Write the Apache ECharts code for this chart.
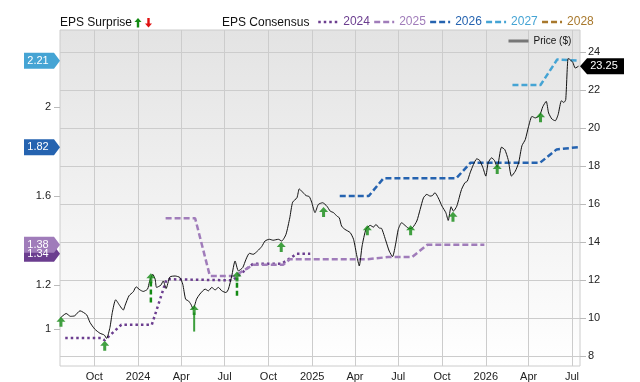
<!DOCTYPE html>
<html>
<head>
<meta charset="utf-8">
<script src="https://cdn.jsdelivr.net/npm/echarts@6/dist/echarts.min.js"></script>
<style>
html,body{margin:0;padding:0;background:#fff}
#main{width:640px;height:382px}
</style>
</head>
<body>
<div id="main"></div>
<script>
// visible date range of the chart
var xRange = ['2023-07-21', '2026-07-18'];
var xTicks = ['2023-10-01','2024-01-01','2024-04-01','2024-07-01','2024-10-01','2025-01-01',
              '2025-04-01','2025-07-01','2025-10-01','2026-01-01','2026-04-01','2026-07-01'];
var xTickLabels = ['Oct','2024','Apr','Jul','Oct','2025','Apr','Jul','Oct','2026','Apr','Jul'];
var epsTicks = [1, 1.2, 1.6, 2];
var priceTicks = [8, 10, 12, 14, 16, 18, 20, 22, 24];
var years = ['2024','2025','2026','2027','2028'];

// consensus EPS by fiscal year
var eps2024 = [['2023-08-01',0.96],['2023-10-16',0.96],['2023-10-23',0.95],['2023-11-27',1.02],['2024-01-30',1.02],
  ['2024-03-01',1.225],['2024-07-18',1.22],['2024-08-30',1.295],['2024-10-29',1.295],['2024-11-30',1.34],['2024-12-28',1.34]];
var eps2025 = [['2024-02-28',1.50],['2024-04-30',1.50],['2024-05-31',1.24],['2024-07-22',1.24],['2024-08-30',1.29],
  ['2024-11-01',1.29],['2024-11-15',1.315],['2025-04-27',1.315],['2025-06-10',1.325],['2025-07-30',1.325],
  ['2025-08-31',1.38],['2025-12-29',1.38]];
var eps2026 = [['2025-02-28',1.60],['2025-04-30',1.60],['2025-05-31',1.68],['2025-10-31',1.68],['2025-11-30',1.75],
  ['2026-04-25',1.75],['2026-05-30',1.81],['2026-07-15',1.82]];
var eps2027 = [['2026-02-26',2.10],['2026-04-26',2.10],['2026-05-31',2.215],['2026-07-15',2.21]];
var eps2028 = [];

// share price
var price = [
 ['2023-07-22',10.02],['2023-08-03',10.25],['2023-08-12',10.10],['2023-08-21',10.13],['2023-09-01',10.39],
 ['2023-09-15',10.18],['2023-09-22',9.78],['2023-10-02',9.43],['2023-10-13',9.21],['2023-10-22',9.12],
 ['2023-10-27',8.94],['2023-11-03',9.52],['2023-11-08',10.31],['2023-11-15',10.97],['2023-11-24',10.65],
 ['2023-12-01',10.43],['2023-12-05',10.69],['2023-12-13',11.18],['2023-12-22',11.39],['2023-12-28',11.65],
 ['2024-01-05',11.49],['2024-01-12',11.41],['2024-01-21',11.53],['2024-01-25',11.91],['2024-02-01',12.31],
 ['2024-02-06',12.05],['2024-02-09',11.62],['2024-02-18',11.74],['2024-02-23',11.96],['2024-02-29',11.56],
 ['2024-03-08',12.17],['2024-03-19',12.22],['2024-03-29',12.14],['2024-04-04',11.79],['2024-04-10',11.00],
 ['2024-04-16',10.91],['2024-04-21',10.74],['2024-04-26',10.48],['2024-05-03',11.00],['2024-05-10',11.27],
 ['2024-05-21',11.53],['2024-05-28',11.44],['2024-06-04',11.62],['2024-06-11',11.49],['2024-06-18',11.62],
 ['2024-06-25',11.44],['2024-07-04',11.35],['2024-07-09',11.53],['2024-07-16',12.22],['2024-07-23',13.01],
 ['2024-07-30',12.49],['2024-08-08',12.66],['2024-08-15',13.10],['2024-08-22',13.41],['2024-08-30',13.36],
 ['2024-09-08',13.53],['2024-09-17',13.77],['2024-09-24',14.06],['2024-10-03',14.15],['2024-10-11',14.10],
 ['2024-10-22',14.15],['2024-10-29',14.06],['2024-11-07',14.41],['2024-11-15',15.28],['2024-11-21',16.10],
 ['2024-11-30',16.33],['2024-12-05',16.80],['2024-12-10',16.68],['2024-12-19',16.45],['2024-12-26',16.39],
 ['2024-12-31',16.10],['2025-01-07',15.55],['2025-01-14',15.98],['2025-01-23',16.07],['2025-02-01',15.89],
 ['2025-02-08',15.63],['2025-02-15',15.55],['2025-02-22',15.37],['2025-02-27',15.28],['2025-03-04',14.84],
 ['2025-03-11',14.67],['2025-03-22',14.50],['2025-03-29',14.15],['2025-04-05',13.27],['2025-04-10',12.75],
 ['2025-04-16',13.80],['2025-04-24',14.67],['2025-05-03',14.88],['2025-05-10',14.79],['2025-05-15',14.93],
 ['2025-05-22',14.74],['2025-05-27',14.72],['2025-06-05',14.06],['2025-06-12',13.53],['2025-06-19',13.24],
 ['2025-06-26',13.97],['2025-07-01',14.67],['2025-07-08',15.02],['2025-07-17',14.84],['2025-07-24',14.71],
 ['2025-07-31',14.76],['2025-08-09',15.11],['2025-08-16',15.72],['2025-08-23',16.33],['2025-08-30',16.51],
 ['2025-09-06',16.42],['2025-09-11',16.45],['2025-09-16',16.60],['2025-09-23',16.33],['2025-10-01',15.89],
 ['2025-10-09',15.55],['2025-10-14',15.14],['2025-10-20',15.86],['2025-10-25',15.63],['2025-11-01',15.89],
 ['2025-11-06',16.33],['2025-11-11',16.77],['2025-11-18',17.12],['2025-11-23',17.20],['2025-11-29',17.64],
 ['2025-12-06',18.08],['2025-12-13',18.38],['2025-12-19',18.30],['2025-12-26',17.91],['2026-01-01',17.47],
 ['2026-01-06',18.17],['2026-01-13',18.43],['2026-01-19',18.30],['2026-01-25',17.94],['2026-02-03',18.99],
 ['2026-02-10',18.86],['2026-02-17',18.34],['2026-02-24',17.47],['2026-03-04',17.73],['2026-03-11',18.17],
 ['2026-03-18',19.07],['2026-03-25',19.39],['2026-04-01',20.09],['2026-04-08',20.61],['2026-04-15',20.53],
 ['2026-04-24',20.65],['2026-05-01',21.13],['2026-05-08',21.40],['2026-05-13',20.79],['2026-05-20',20.47],
 ['2026-05-27',20.38],['2026-06-02',20.70],['2026-06-09',21.43],['2026-06-14',21.34],['2026-06-18',21.49],
 ['2026-06-23',23.65],['2026-06-27',23.60],['2026-07-03',23.44],['2026-07-08',23.15],['2026-07-15',23.25]
];

// EPS surprise arrows (placed on the price scale)
var surprise = [['2023-07-23',9.81],['2023-10-23',8.56],['2024-01-28',12.10],['2024-04-28',10.43],
  ['2024-07-27',12.19],['2024-10-28',13.74],['2025-01-25',15.58],['2025-04-27',14.62],['2025-07-27',14.62],
  ['2025-10-24',15.34],['2026-01-25',17.85],['2026-04-26',20.56]];
// stems below some arrows: date, from, to, dashed?
var stems = [['2024-01-28',10.83,12.0,true],['2024-04-28',9.30,10.3,false],['2024-07-27',11.18,12.1,true]];

var FONT = '"Liberation Sans", Arial, Helvetica, sans-serif';
var yearColors = {'2024':'#6b3d8f','2025':'#a07cba','2026':'#2563b0','2027':'#45a4d4','2028':'#a8782c'};
var upColor = '#138a13';

function ts(s){ var p = s.split('-'); return new Date(+p[0], p[1]-1, +p[2]).getTime(); }
function pts(arr){ return arr.map(function(d){ return [ts(d[0]), d[1]]; }); }

var xMin = ts(xRange[0]), xMax = ts(xRange[1]);
var xTickVals = xTicks.map(ts);

function epsSeries(name, data, dash){
  var s = {
    name: name, type: 'line', yAxisIndex: 0, data: pts(data), symbol: 'none', clip: false, z: 3,
    lineStyle: {color: yearColors[name], width: 2.5, type: dash},
    itemStyle: {color: yearColors[name]}
  };
  if (data.length) {
    var last = data[data.length-1][1];
    s.markPoint = {
      silent: true,
      symbol: 'path://M0,0L30,0L36,8L30,16L0,16Z', symbolSize: [36,16], symbolOffset: [-18,0],
      itemStyle: {color: yearColors[name]},
      label: {show: true, position: 'inside', color: '#fff', fontSize: 11, fontFamily: FONT,
              formatter: last.toFixed(2), offset: [-4,0]},
      data: [{coord: [xMin, last]}]
    };
  }
  return s;
}

var series = [
  epsSeries('2024', eps2024, [2.5,3]),
  epsSeries('2025', eps2025, [6,3]),
  epsSeries('2026', eps2026, [6,3]),
  epsSeries('2027', eps2027, [6,3]),
  epsSeries('2028', eps2028, [6,3])
];

var lastPrice = price[price.length-1][1];
series.push({
  name: 'Price ($)', type: 'line', yAxisIndex: 1, data: pts(price), symbol: 'none', smooth: 0.2, clip: false, z: 4,
  lineStyle: {color: '#111', width: 1}, itemStyle: {color: '#777'},
  markPoint: {
    silent: true,
    symbol: 'path://M0,8L7,0L44,0L44,16L7,16Z', symbolSize: [44,16], symbolOffset: [22,0],
    itemStyle: {color: '#000'},
    label: {show: true, position: 'inside', color: '#fff', fontSize: 11, fontFamily: FONT,
            formatter: lastPrice.toFixed(2), offset: [2,0]},
    data: [{coord: [xMax, lastPrice]}]
  }
});

stems.forEach(function(st){
  series.push({
    type: 'line', yAxisIndex: 1, symbol: 'none', z: 5, silent: true,
    data: [[ts(st[0]), st[1]], [ts(st[0]), st[2]]],
    lineStyle: st[3] ? {color: upColor, width: 2.5, type: [5,3]} : {color: '#3c9f3c', width: 2}
  });
});

series.push({
  name: 'EPS Surprise', type: 'scatter', yAxisIndex: 1, data: pts(surprise), z: 6,
  symbol: 'path://M4.5,0L9,5L6,5L6,10L3,10L3,5L0,5Z', symbolSize: [9,10],
  itemStyle: {color: upColor}
});

var chart = echarts.init(document.getElementById('main'));
chart.setOption({
  animation: false,
  grid: {
    left: 60, right: 60, top: 30, bottom: 15, show: true, borderColor: '#cccccc', borderWidth: 1,
    backgroundColor: new echarts.graphic.LinearGradient(0, 0, 0, 1, [
      {offset: 0, color: '#e3e3e3'}, {offset: 1, color: '#ffffff'}])
  },
  legend: [{
    left: 317, top: 16, padding: 0, itemWidth: 20, itemHeight: 10, itemGap: 3, selectedMode: false,
    data: years.map(function(y){ return {name: y, textStyle: {color: yearColors[y]}}; }),
    textStyle: {fontSize: 12, fontFamily: FONT},
    itemStyle: {opacity: 0},
    lineStyle: {width: 'inherit'}
  }, {
    left: 507, top: 36, padding: 0, itemWidth: 20, itemHeight: 10, selectedMode: false,
    data: [{name: 'Price ($)', lineStyle: {color: '#777', width: 3}}],
    itemStyle: {opacity: 0},
    textStyle: {fontSize: 10, fontFamily: FONT, color: '#111'}
  }],
  graphic: [
    {type: 'text', left: 60, top: 17, style: {text: 'EPS Surprise', font: '12px ' + FONT, fill: '#111'}},
    {type: 'polygon', shape: {points: [[138,18],[141.5,22],[139.2,22],[139.2,27.5],[136.8,27.5],[136.8,22],[134.5,22]]},
     style: {fill: upColor}},
    {type: 'polygon', shape: {points: [[147.3,18],[149.7,18],[149.7,23.5],[152,23.5],[148.5,27.5],[145,23.5],[147.3,23.5]]},
     style: {fill: '#e01010'}},
    {type: 'text', left: 222, top: 17, style: {text: 'EPS Consensus', font: '12px ' + FONT, fill: '#111'}}
  ],
  xAxis: {
    type: 'value', min: xMin, max: xMax,
    axisLine: {show: false},
    axisTick: {show: false, customValues: xTickVals},
    axisLabel: {
      customValues: xTickVals, color: '#222', fontSize: 11, fontFamily: FONT, margin: 5,
      formatter: function(v){ var i = xTickVals.indexOf(v); return i < 0 ? '' : xTickLabels[i]; }
    },
    splitLine: {show: true, lineStyle: {color: '#cccccc', width: 1}}
  },
  yAxis: [{
    type: 'value', position: 'left', min: 0.834, max: 2.348,
    axisLine: {show: false},
    axisTick: {show: true, length: 6, lineStyle: {color: '#bbbbbb'}, customValues: epsTicks},
    axisLabel: {customValues: epsTicks, color: '#222', fontSize: 11, fontFamily: FONT, margin: 9,
                formatter: function(v){ return String(v); }},
    splitLine: {show: false}
  }, {
    type: 'value', position: 'right', min: 7.49, max: 25.15,
    axisLine: {show: false},
    axisTick: {show: true, length: 6, lineStyle: {color: '#bbbbbb'}, customValues: priceTicks},
    axisLabel: {customValues: priceTicks, color: '#222', fontSize: 11, fontFamily: FONT, margin: 8},
    splitLine: {show: true, lineStyle: {color: '#cccccc', width: 1}}
  }],
  series: series
});
</script>
</body>
</html>
